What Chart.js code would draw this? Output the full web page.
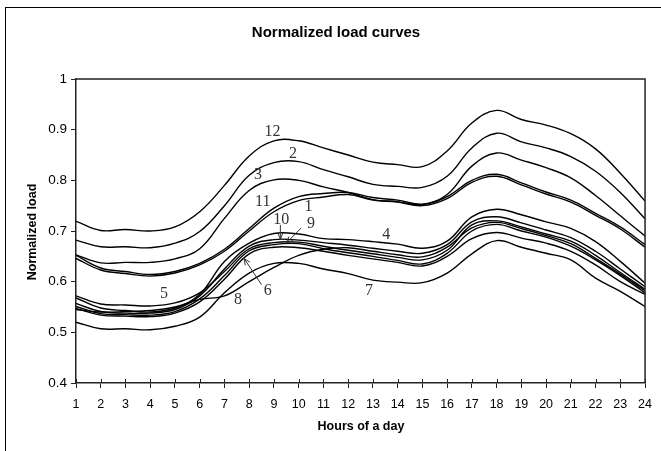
<!DOCTYPE html>
<html>
<head>
<meta charset="utf-8">
<script src="https://cdn.jsdelivr.net/npm/chart.js@4"></script>
<style>
  body { margin: 0; background: #fff; }
</style>
</head>
<body>
<canvas id="chart" width="661" height="451"></canvas>
<script>
// hours on the x axis
const hours = [1,2,3,4,5,6,7,8,9,10,11,12,13,14,15,16,17,18,19,20,21,22,23,24];
const yTickLabels = ['0.4','0.5','0.6','0.7','0.8','0.9','1'];

// normalized load, one array per curve
const load1  = [0.646,0.623,0.616,0.611,0.617,0.633,0.660,0.700,0.738,0.760,0.767,0.772,0.761,0.757,0.750,0.764,0.796,0.808,0.791,0.773,0.757,0.731,0.704,0.668];
const load2  = [0.682,0.669,0.669,0.667,0.676,0.699,0.750,0.810,0.835,0.837,0.821,0.807,0.792,0.788,0.786,0.808,0.864,0.893,0.876,0.864,0.847,0.818,0.776,0.724];
const load3  = [0.653,0.637,0.638,0.638,0.645,0.665,0.725,0.780,0.801,0.800,0.787,0.776,0.762,0.758,0.752,0.772,0.828,0.854,0.840,0.825,0.805,0.770,0.730,0.690];
const load4  = [0.568,0.548,0.543,0.540,0.548,0.575,0.640,0.676,0.695,0.694,0.685,0.683,0.679,0.674,0.666,0.680,0.728,0.743,0.732,0.718,0.705,0.679,0.640,0.597];
const load5  = [0.572,0.556,0.554,0.552,0.558,0.578,0.620,0.665,0.677,0.678,0.670,0.662,0.655,0.648,0.643,0.662,0.712,0.720,0.708,0.694,0.680,0.652,0.618,0.585];
const load6  = [0.547,0.534,0.532,0.531,0.538,0.560,0.605,0.655,0.668,0.667,0.660,0.652,0.645,0.638,0.631,0.650,0.685,0.697,0.686,0.676,0.660,0.633,0.600,0.575];
const load7  = [0.520,0.507,0.507,0.505,0.512,0.530,0.578,0.617,0.636,0.636,0.625,0.616,0.603,0.599,0.598,0.617,0.655,0.681,0.668,0.656,0.643,0.607,0.581,0.551];
const load8  = [0.545,0.540,0.541,0.543,0.550,0.565,0.572,0.600,0.628,0.652,0.664,0.667,0.660,0.653,0.649,0.668,0.706,0.717,0.705,0.691,0.675,0.646,0.615,0.582];
const load9  = [0.551,0.537,0.535,0.534,0.541,0.566,0.612,0.661,0.673,0.675,0.665,0.657,0.650,0.642,0.635,0.656,0.700,0.713,0.700,0.688,0.670,0.643,0.612,0.578];
const load10 = [0.557,0.541,0.538,0.538,0.545,0.572,0.625,0.670,0.683,0.682,0.677,0.672,0.666,0.660,0.656,0.673,0.718,0.728,0.716,0.702,0.687,0.660,0.625,0.590];
const load11 = [0.652,0.627,0.620,0.614,0.620,0.636,0.664,0.705,0.745,0.768,0.774,0.776,0.766,0.761,0.753,0.768,0.800,0.812,0.795,0.777,0.761,0.735,0.708,0.673];
const load12 = [0.719,0.701,0.703,0.700,0.708,0.738,0.790,0.848,0.878,0.878,0.864,0.850,0.836,0.831,0.827,0.858,0.913,0.938,0.920,0.909,0.892,0.862,0.814,0.759];

const curves = [load1, load2, load3, load4, load5, load6, load7, load8, load9, load10, load11, load12];

// curve numbers written on the plot, in data units (hour, load); arrow = point it aims at
const notes = [
  { text: '12', at: [8.94, 0.896] },
  { text: '2',  at: [9.77, 0.853] },
  { text: '3',  at: [8.36, 0.811] },
  { text: '11', at: [8.55, 0.758] },
  { text: '1',  at: [10.4, 0.748] },
  { text: '10', at: [9.3, 0.722], arrow: [[9.26, 0.712], [9.26, 0.684]] },
  { text: '9',  at: [10.5, 0.714], arrow: [[10.1, 0.706], [9.5, 0.676]] },
  { text: '4',  at: [13.54, 0.692] },
  { text: '5',  at: [4.56, 0.577] },
  { text: '6',  at: [8.75, 0.582], arrow: [[8.5, 0.594], [7.79, 0.646]] },
  { text: '8',  at: [7.55, 0.564] },
  { text: '7',  at: [12.84, 0.582] }
];

const sans = 'Liberation Sans, Arial, sans-serif';

const extras = {
  id: 'extras',
  beforeDraw(chart) {
    const ctx = chart.ctx;
    ctx.save();
    ctx.fillStyle = '#fff';
    ctx.fillRect(0, 0, chart.width, chart.height);
    ctx.restore();
  },
  afterDraw(chart) {
    const ctx = chart.ctx;
    const a = chart.chartArea;
    const x = chart.scales.x, y = chart.scales.y;
    ctx.save();

    // top and right side of the plot box
    ctx.strokeStyle = '#222';
    ctx.lineWidth = 1.5;
    ctx.beginPath();
    ctx.moveTo(a.left, a.top);
    ctx.lineTo(a.right, a.top);
    ctx.lineTo(a.right, a.bottom);
    ctx.stroke();

    // x ticks also poke up into the plot
    ctx.lineWidth = 1;
    ctx.beginPath();
    hours.forEach(h => {
      const px = Math.round(x.getPixelForValue(h)) + 0.5;
      ctx.moveTo(px, a.bottom);
      ctx.lineTo(px, a.bottom - 4);
    });
    ctx.stroke();

    // outer frame
    ctx.strokeStyle = '#000';
    ctx.lineWidth = 1;
    ctx.strokeRect(5.5, 7.5, 800, 600);

    // curve numbers and arrows
    ctx.fillStyle = '#333';
    ctx.strokeStyle = '#333';
    ctx.font = '16px "Liberation Serif", "Times New Roman", serif';
    ctx.textAlign = 'center';
    ctx.textBaseline = 'middle';
    notes.forEach(n => {
      ctx.fillText(n.text, x.getPixelForValue(n.at[0]), y.getPixelForValue(n.at[1]));
      if (n.arrow) {
        const x0 = x.getPixelForValue(n.arrow[0][0]), y0 = y.getPixelForValue(n.arrow[0][1]);
        const x1 = x.getPixelForValue(n.arrow[1][0]), y1 = y.getPixelForValue(n.arrow[1][1]);
        const ang = Math.atan2(y1 - y0, x1 - x0);
        ctx.lineWidth = 1;
        ctx.beginPath();
        ctx.moveTo(x0, y0);
        ctx.lineTo(x1, y1);
        ctx.moveTo(x1 - 7 * Math.cos(ang - 0.4), y1 - 7 * Math.sin(ang - 0.4));
        ctx.lineTo(x1, y1);
        ctx.lineTo(x1 - 7 * Math.cos(ang + 0.4), y1 - 7 * Math.sin(ang + 0.4));
        ctx.stroke();
      }
    });

    // titles
    ctx.fillStyle = '#000';
    ctx.font = 'bold 15px ' + sans;
    ctx.fillText('Normalized load curves', 336, 33);
    ctx.font = 'bold 12.5px ' + sans;
    ctx.fillText('Hours of a day', 361, 427);
    ctx.translate(33, 232);
    ctx.rotate(-Math.PI / 2);
    ctx.fillText('Normalized load', 0, 0);
    ctx.restore();
  }
};

new Chart(document.getElementById('chart'), {
  type: 'line',
  data: {
    datasets: curves.map((c, i) => ({
      label: String(i + 1),
      data: hours.map((h, j) => ({ x: h, y: c[j] })),
      borderColor: '#000',
      borderWidth: 1.4,
      pointRadius: 0,
      tension: 0.4,
      fill: false
    }))
  },
  options: {
    responsive: false,
    animation: false,
    devicePixelRatio: 1,
    layout: { padding: { top: 79, right: 15, left: 0, bottom: 0 } },
    plugins: {
      legend: { display: false },
      title: { display: false },
      tooltip: { enabled: false }
    },
    scales: {
      x: {
        type: 'linear',
        min: 1,
        max: 24,
        ticks: { stepSize: 1, autoSkip: false, maxRotation: 0, color: '#000', padding: 9, font: { family: sans, size: 12.5 } },
        grid: { drawOnChartArea: false, tickLength: 5, color: '#222' },
        border: { color: '#222', width: 1.5 },
        afterFit(s) { s.height = 68; }
      },
      y: {
        min: 0.4,
        max: 1,
        ticks: { stepSize: 0.1, color: '#000', padding: 4, font: { family: sans, size: 13.5 },
                 callback: (v, i) => yTickLabels[i] },
        grid: { drawOnChartArea: false, tickLength: 5, color: '#222' },
        border: { color: '#222', width: 1.5 },
        afterFit(s) { s.width = 76; }
      }
    }
  },
  plugins: [extras]
});
</script>
</body>
</html>
